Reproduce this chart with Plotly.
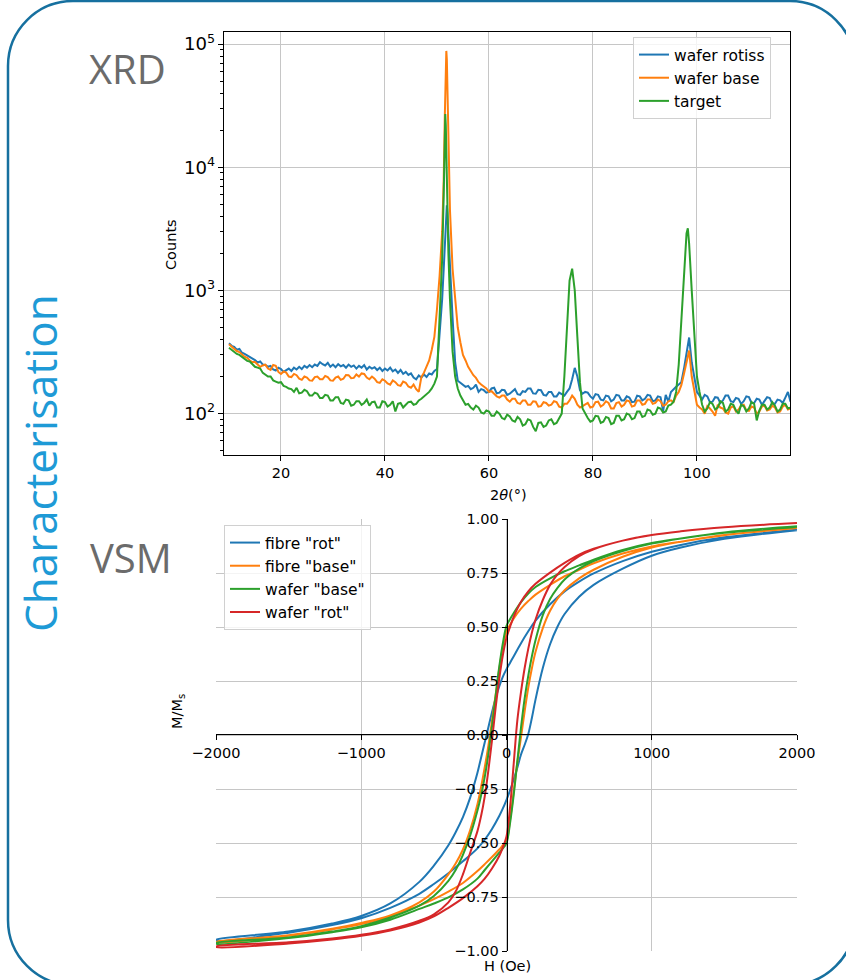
import plotly.graph_objects as go

# ---------------- XRD data ----------------
# 2-theta grid: 0.5 deg steps on the background, finer steps across the peaks
two_theta = ([10 + 0.5 * i for i in range(80)]
             + [50, 50.5, 51, 51.3, 51.5, 51.6, 51.7, 51.8, 51.9, 52.0, 52.2, 52.5, 53, 53.5, 54, 54.5]
             + [55 + 0.5 * i for i in range(40)]
             + [75, 75.5, 76, 76.5, 77, 77.5, 78]
             + [78.5 + 0.5 * i for i in range(37)]
             + [97, 97.5, 98, 98.25, 98.5, 99, 99.5, 100]
             + [100.5 + 0.5 * i for i in range(36)])

wafer_rotiss = [
    372, 355, 348, 330, 335, 312, 305, 296, 290, 278,
    272, 260, 265, 250, 248, 240, 244, 228, 224, 236,
    230, 218, 226, 232, 222, 236, 228, 240, 230, 244,
    236, 248, 238, 250, 244, 262, 252, 246, 258, 240,
    250, 238, 252, 242, 248, 236, 250, 240, 246, 232,
    244, 236, 248, 228, 240, 232, 238, 226, 236, 222,
    232, 224, 236, 220, 228, 214, 226, 210, 218, 206,
    212, 196, 190, 204, 196, 208, 198, 212, 208, 222,
    230, 420, 850, 1500, 2500, 3200, 4000, 4700, 4900, 4300, 2800, 1300, 600, 260, 185, 178,
    172, 165, 168, 158, 162, 172, 150, 158, 155, 148,
    150, 160, 162, 146, 148, 156, 155, 142, 145, 152,
    158, 144, 142, 152, 150, 160, 160, 146, 145, 156,
    155, 142, 140, 150, 150, 138, 138, 148, 145, 140,
    150, 160, 190, 235, 200, 155, 145,
    150, 148, 138, 132, 144, 142, 130, 128, 140, 138,
    126, 130, 142, 140, 128, 128, 138, 135, 124, 125,
    140, 138, 128, 132, 142, 140, 126, 128, 138, 136,
    105, 142, 125, 150, 156, 165, 172,
    180, 230, 320, 380, 415, 260, 190, 150,
    140, 130, 142, 138, 124, 125, 136, 135, 122, 128,
    140, 140, 126, 124, 134, 132, 120, 126, 138, 136,
    122, 122, 132, 130, 118, 126, 136, 134, 120, 120,
    130, 128, 122, 135, 150, 125]

wafer_base = [
    366, 350, 338, 322, 316, 300, 290, 284, 270, 262,
    262, 250, 240, 246, 250, 232, 226, 248, 244, 218,
    210, 220, 215, 200, 198, 210, 205, 192, 188, 200,
    196, 186, 185, 198, 200, 190, 190, 202, 198, 186,
    185, 196, 200, 188, 192, 206, 205, 194, 195, 208,
    200, 212, 210, 196, 190, 200, 192, 180, 178, 190,
    185, 176, 172, 186, 180, 170, 168, 182, 178, 166,
    162, 172, 158, 150, 198, 215, 245, 270, 330, 420,
    700, 1300, 3000, 8000, 25000, 50000, 80000, 88000, 75000, 45000, 15000, 4500, 1500, 800, 500, 380,
    300, 270, 240, 222, 205, 195, 180, 172, 165, 160,
    150, 152, 145, 138, 135, 140, 140, 130, 125, 132,
    132, 122, 120, 128, 128, 118, 118, 126, 125, 114,
    115, 124, 122, 116, 118, 126, 124, 114, 112, 120,
    120, 128, 140, 132, 118, 112, 115,
    118, 122, 112, 114, 124, 125, 114, 118, 126, 122,
    110, 110, 122, 124, 114, 118, 128, 126, 114, 116,
    128, 128, 118, 120, 130, 130, 120, 122, 130, 126,
    116, 118, 126, 128, 124, 140, 150,
    170, 210, 270, 300, 325, 200, 150, 118,
    112, 108, 100, 115, 110, 104, 96, 118, 112, 110,
    102, 100, 112, 115, 104, 108, 116, 118, 106, 105,
    114, 112, 100, 104, 114, 116, 106, 108, 116, 112,
    102, 104, 114, 118, 108, 110]

target = [
    342, 328, 318, 305, 300, 288, 276, 268, 265, 250,
    240, 236, 232, 214, 208, 200, 200, 186, 182, 178,
    180, 168, 165, 160, 158, 150, 162, 146, 148, 156,
    152, 140, 140, 148, 145, 134, 134, 142, 140, 128,
    128, 136, 136, 122, 120, 130, 128, 116, 118, 126,
    126, 118, 122, 130, 116, 124, 125, 112, 112, 126,
    124, 114, 118, 126, 104, 120, 122, 112, 118, 124,
    125, 118, 120, 128, 132, 138, 145, 150, 160, 175,
    200, 600, 1800, 6000, 20000, 27000, 22000, 12000, 6500, 4000, 2000, 850, 320, 200, 160, 140,
    128, 118, 120, 112, 108, 116, 112, 102, 100, 106,
    104, 96, 96, 104, 100, 92, 90, 98, 95, 88,
    86, 94, 90, 80, 82, 90, 88, 78, 72, 84,
    85, 78, 80, 88, 90, 82, 84, 92, 100, 200,
    550, 1200, 1500, 1000, 420, 180, 110,
    100, 92, 86, 88, 96, 95, 84, 86, 94, 92,
    82, 84, 96, 96, 88, 90, 100, 98, 90, 92,
    104, 104, 94, 96, 108, 106, 98, 100, 112, 110,
    102, 104, 116, 118, 125, 150, 250,
    600, 1500, 2900, 3200, 2400, 1000, 400, 200,
    150, 118, 104, 110, 124, 120, 108, 112, 126, 122,
    104, 108, 120, 118, 106, 100, 118, 115, 104, 110,
    124, 120, 88, 106, 118, 118, 108, 112, 124, 116,
    104, 108, 120, 120, 110, 112]

xrd_names = ["wafer rotiss", "wafer base", "target"]

for series in (wafer_rotiss, wafer_base, target):
    assert len(series) == len(two_theta), (len(series), len(two_theta))

# ---------------- VSM data ----------------
field_down = [2000, 1500, 1200, 1000, 800, 600, 500, 400, 300, 200, 150, 100, 50, 25, 0,
              -25, -50, -75, -100, -125, -150, -175, -200, -250, -300, -350, -400, -500,
              -600, -800, -1000, -1200, -1500, -2000]
field_up = [-2000, -1500, -1200, -1000, -800, -600, -500, -400, -300, -200, -150, -100, -50, -25, 0,
            25, 50, 75, 100, 125, 150, 175, 200, 250, 300, 350, 400, 500,
            600, 800, 1000, 1200, 1500, 2000]

fibre_rot_down = [0.950, 0.915, 0.88, 0.848, 0.805, 0.748, 0.71, 0.665, 0.605, 0.53, 0.48, 0.425, 0.365,
                  0.335, 0.305, 0.27, 0.225, 0.17, 0.105, 0.035, -0.035, -0.105, -0.175, -0.29, -0.38,
                  -0.45, -0.51, -0.605, -0.68, -0.78, -0.838, -0.873, -0.91, -0.948]
fibre_rot_up = [-0.952, -0.915, -0.88, -0.848, -0.80, -0.735, -0.69, -0.64, -0.585, -0.525, -0.485,
                -0.435, -0.375, -0.34, -0.30, -0.255, -0.205, -0.15, -0.09, -0.045, 0.005, 0.08, 0.165,
                0.31, 0.42, 0.50, 0.56, 0.64, 0.695, 0.77, 0.83, 0.868, 0.908, 0.948]

fibre_base_down = [0.958, 0.926, 0.895, 0.873, 0.84, 0.795, 0.765, 0.735, 0.695, 0.65, 0.62, 0.585, 0.54,
                   0.51, 0.48, 0.405, 0.305, 0.185, 0.065, -0.05, -0.15, -0.24, -0.32, -0.44, -0.53,
                   -0.595, -0.645, -0.725, -0.775, -0.835, -0.87, -0.897, -0.927, -0.958]
fibre_base_up = [-0.96, -0.93, -0.9, -0.875, -0.84, -0.79, -0.76, -0.725, -0.685, -0.63, -0.598,
                 -0.565, -0.53, -0.51, -0.49, -0.39, -0.26, -0.125, -0.01, 0.11, 0.22, 0.31, 0.385,
                 0.495, 0.575, 0.63, 0.67, 0.725, 0.765, 0.825, 0.868, 0.895, 0.925, 0.958]

wafer_base_down = [0.966, 0.938, 0.91, 0.889, 0.857, 0.812, 0.785, 0.758, 0.725, 0.685, 0.655, 0.615,
                   0.565, 0.537, 0.505, 0.425, 0.315, 0.18, 0.04, -0.09, -0.195, -0.28, -0.35, -0.465,
                   -0.555, -0.625, -0.675, -0.745, -0.79, -0.845, -0.885, -0.91, -0.937, -0.963]
wafer_base_up = [-0.966, -0.94, -0.913, -0.89, -0.855, -0.805, -0.78, -0.752, -0.715, -0.665, -0.625,
                 -0.585, -0.545, -0.525, -0.50, -0.405, -0.275, -0.12, 0.035, 0.17, 0.275, 0.365, 0.44,
                 0.555, 0.63, 0.68, 0.72, 0.77, 0.805, 0.852, 0.886, 0.91, 0.936, 0.963]

wafer_rot_down = [0.981, 0.962, 0.943, 0.926, 0.90, 0.862, 0.835, 0.797, 0.752, 0.70, 0.665, 0.617,
                  0.548, 0.502, 0.45, 0.37, 0.26, 0.125, -0.025, -0.165, -0.285, -0.375, -0.445,
                  -0.545, -0.645, -0.725, -0.775, -0.83, -0.86, -0.90, -0.925, -0.942, -0.96, -0.979]
wafer_rot_up = [-0.982, -0.965, -0.947, -0.93, -0.905, -0.868, -0.84, -0.80, -0.755, -0.70, -0.665,
                -0.618, -0.56, -0.52, -0.47, -0.33, -0.13, 0.07, 0.20, 0.31, 0.40, 0.475, 0.535,
                0.625, 0.695, 0.742, 0.778, 0.828, 0.86, 0.90, 0.926, 0.943, 0.962, 0.981]

vsm_names = ['fibre "rot"', 'fibre "base"', 'wafer "base"', 'wafer "rot"']

COLORS = ["#1f77b4", "#ff7f0e", "#2ca02c", "#d62728"]

# ---------------- geometry helpers (pixel -> paper) ----------------
W, H = 846, 980


def px(x):
    return x / W


def py(y):
    return 1 - y / H


fig = go.Figure()

for name, vals, col in zip(xrd_names, [wafer_rotiss, wafer_base, target], COLORS):
    fig.add_trace(go.Scatter(x=two_theta, y=vals, mode="lines", name=name,
                             line=dict(color=col, width=2), xaxis="x", yaxis="y",
                             legend="legend"))

loops = [(fibre_rot_down, fibre_rot_up), (fibre_base_down, fibre_base_up),
         (wafer_base_down, wafer_base_up), (wafer_rot_down, wafer_rot_up)]
for name, (m_down, m_up), col in zip(vsm_names, loops, COLORS):
    fig.add_trace(go.Scatter(x=field_down + field_up, y=m_down + m_up, mode="lines", name=name,
                             line=dict(color=col, width=2, shape="spline", smoothing=1.0),
                             xaxis="x2", yaxis="y2", legend="legend2"))

TICKFONT = dict(family="DejaVu Sans", size=14.5, color="black")
LEGFONT = dict(family="DejaVu Sans", size=15.5, color="black")
GRID = "#c6c6c6"

common = dict(showgrid=True, gridcolor=GRID, gridwidth=1.2, zeroline=False, automargin=False,
              ticks="outside", ticklen=5, tickwidth=1, tickcolor="black",
              tickfont=TICKFONT, showline=True, linecolor="black", linewidth=1)

fig.update_layout(
    template="none",
    width=W, height=H,
    margin=dict(l=0, r=0, t=0, b=0, autoexpand=False),
    font=dict(family="DejaVu Sans", color="black"),
    paper_bgcolor="white", plot_bgcolor="white",
    xaxis=dict(domain=[px(224), px(790)], range=[9.04, 117.9], anchor="y",
               mirror=True, dtick=20, tick0=0, **common),
    yaxis=dict(domain=[py(455), py(32)], type="log", range=[1.664, 5.098], anchor="x",
               mirror=True, dtick=1, exponentformat="power",
               minor=dict(ticks="outside", ticklen=3, dtick="D1", tickcolor="black", showgrid=False),
               **common),
    xaxis2=dict(domain=[px(216), px(797)], range=[-2000, 2000], anchor="free",
                position=py(734.3), dtick=1000, tick0=0, tickformat="d", **common),
    yaxis2=dict(domain=[py(951), py(519)], range=[-1, 1], anchor="free",
                position=px(506.7), dtick=0.25, tick0=0, tickformat=".2f", **common),
    legend=dict(x=px(633), y=py(37), xanchor="left", yanchor="top",
                bgcolor="rgba(255,255,255,0.8)", bordercolor="#d0d0d0", borderwidth=1,
                font=LEGFONT),
    legend2=dict(x=px(224), y=py(525), xanchor="left", yanchor="top",
                 bgcolor="rgba(255,255,255,0.8)", bordercolor="#d0d0d0", borderwidth=1,
                 font=LEGFONT),
)

# rounded frame around the panel
x0, y0, x1, y1, r = 8, 1, 855, 985, 65
k = 0.5523 * r


def P(x, y):
    return f"{px(x):.5f},{py(y):.5f}"


path = (f"M {P(x0, y0 + r)} C {P(x0, y0 + r - k)} {P(x0 + r - k, y0)} {P(x0 + r, y0)} "
        f"L {P(x1 - r, y0)} C {P(x1 - r + k, y0)} {P(x1, y0 + r - k)} {P(x1, y0 + r)} "
        f"L {P(x1, y1 - r)} C {P(x1, y1 - r + k)} {P(x1 - r + k, y1)} {P(x1 - r, y1)} "
        f"L {P(x0 + r, y1)} C {P(x0 + r - k, y1)} {P(x0, y1 - r + k)} {P(x0, y1 - r)} Z")
fig.add_shape(type="path", path=path, xref="paper", yref="paper",
              line=dict(color="#16709f", width=2.5), layer="below")


def label(text, x, y, size, color="black", family="DejaVu Sans", angle=0):
    fig.add_annotation(text=text, x=px(x), y=py(y), xref="paper", yref="paper",
                       showarrow=False, textangle=angle, xanchor="center", yanchor="middle",
                       font=dict(family=family, size=size, color=color))


label("Characterisation", 40, 463, 44, color="#1e9ad6", family="Open Sans", angle=-90)
label("XRD", 127, 69, 40, color="#6b6b6b", family="Open Sans")
label("VSM", 131, 557, 40, color="#6b6b6b", family="Open Sans")
label("Counts", 171, 245, 14.5, angle=-90)
label("2<i>θ</i>(°)", 508, 495, 14.5)
label("M/M<sub>s</sub>", 178, 712, 14.5, angle=-90)
label("H (Oe)", 507, 966, 14.5)

fig.write_html("out.html")
